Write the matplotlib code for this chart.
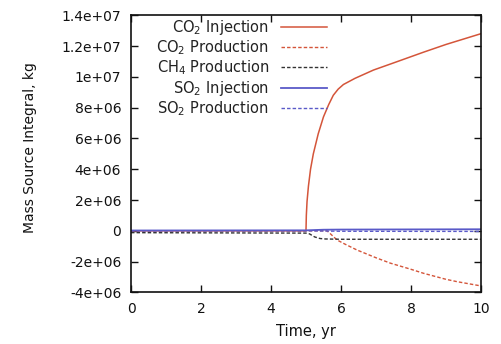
import matplotlib
matplotlib.use("Agg")
import matplotlib.pyplot as plt

plt.rcParams['font.family'] = ['DejaVu Sans']
plt.rcParams['mathtext.fontset'] = 'dejavusans'

# values (time in yr, mass in kg)
co2_inj_t = [0, 5.0, 5.01, 5.03, 5.07, 5.13, 5.21, 5.35, 5.5, 5.65, 5.78, 5.92, 6.07, 6.4,
             6.93, 7.5, 8.36, 9.0, 9.5, 10.0]
co2_inj_v = [0, 0, 1.0e6, 1.9e6, 2.9e6, 4.0e6, 5.0e6, 6.3e6, 7.4e6, 8.2e6, 8.8e6, 9.2e6, 9.5e6, 9.9e6,
             10.44e6, 10.9e6, 11.6e6, 12.1e6, 12.45e6, 12.8e6]

co2_prod_t = [0, 5.6, 5.7, 5.89, 6.1, 6.46, 7.0, 7.41, 8.0, 8.36, 9.0, 9.31, 10.0]
co2_prod_v = [0, 0, -0.2e6, -0.6e6, -0.85e6, -1.25e6, -1.75e6, -2.1e6, -2.5e6, -2.76e6, -3.15e6, -3.3e6, -3.58e6]

ch4_t = [0, 5.0, 5.1, 5.25, 5.4, 5.55, 6.0, 10.0]
ch4_v = [-0.12e6, -0.15e6, -0.2e6, -0.4e6, -0.5e6, -0.53e6, -0.55e6, -0.55e6]

so2_inj_t = [0, 5.0, 5.5, 6.0, 8.0, 10.0]
so2_inj_v = [0.02e6, 0.03e6, 0.07e6, 0.08e6, 0.09e6, 0.1e6]

so2_prod_t = [0, 5.0, 6.0, 10.0]
so2_prod_v = [0, 0, -0.03e6, -0.04e6]

xticks = [0, 2, 4, 6, 8, 10]
yticks = [-4e6, -2e6, 0, 2e6, 4e6, 6e6, 8e6, 1e7, 1.2e7, 1.4e7]
ytick_labels = ['-4e+06', '-2e+06', '0', '2e+06', '4e+06', '6e+06', '8e+06', '1e+07', '1.2e+07', '1.4e+07']

red = '#d4553a'
black = '#333333'
blue = '#5a5ac8'
dash = (0, (2.5, 1.5))

fig, ax = plt.subplots(figsize=(5.01, 3.44), dpi=100)
fig.subplots_adjust(left=0.2615, right=0.960, top=0.9558, bottom=0.150)

ax.plot(co2_inj_t, co2_inj_v, color=red, lw=1.1, label='CO$_2$ Injection')
ax.plot(co2_prod_t, co2_prod_v, color=red, lw=1.0, ls=dash, label='CO$_2$ Production')
ax.plot(ch4_t, ch4_v, color=black, lw=1.0, ls=dash, label='CH$_4$ Production')
ax.plot(so2_inj_t, so2_inj_v, color=blue, lw=1.3, label='SO$_2$ Injection')
ax.plot(so2_prod_t, so2_prod_v, color=blue, lw=1.0, ls=dash, label='SO$_2$ Production')

ax.set_xlim(0, 10)
ax.set_ylim(-4e6, 1.4e7)
ax.set_xticks(xticks)
ax.set_xticklabels([str(v) for v in xticks])
ax.set_yticks(yticks)
ax.set_yticklabels(ytick_labels)
ax.tick_params(direction='in', top=True, right=True, labelsize=10, length=5, width=1,
               pad=7, colors='#111111')
for s in ax.spines.values():
    s.set_linewidth(1.2)
    s.set_color('#111111')

ax.set_xlabel('Time, yr', fontsize=10.5, color='#111111', va='top')
ax.xaxis.set_label_coords(0.5, -0.114)
ax.set_ylabel('Mass Source Integral, kg', fontsize=10, color='#111111')
ax.yaxis.set_label_coords(-0.27, 0.523)

# gnuplot-style key: right-aligned labels, samples on the right
leg = ax.legend(loc='upper right', bbox_to_anchor=(0.559, 0.99), frameon=False, markerfirst=False,
                fontsize=10.5, handlelength=3.1, labelspacing=0.1, handletextpad=0.85,
                borderpad=0, borderaxespad=0)
for t in leg.get_texts():
    t.set_color('#222222')

fig.savefig('out.png', dpi=100)
